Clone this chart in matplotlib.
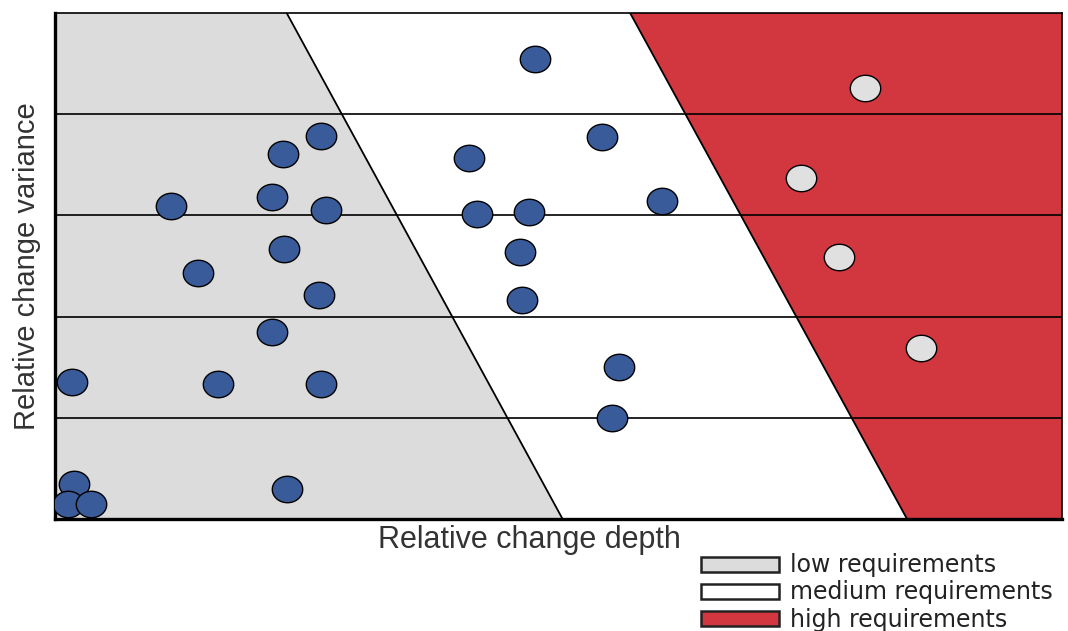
import numpy as np
import matplotlib.pyplot as plt
from matplotlib.patches import Polygon, Patch

plt.rcParams['font.family'] = ['Liberation Sans', 'DejaVu Sans']

# Zonen-Grenzen (oben, unten) auf der x-Achse
border_low = (2.30, 5.04)
border_high = (5.71, 8.46)
band_lines = [1, 2, 3, 4]

# Projekte (blau)
proj_x = [4.77, 2.64, 2.26, 4.11, 5.43, 1.15, 2.15, 2.69, 4.19, 4.71, 6.03, 2.27, 4.62,
          1.42, 2.62, 4.64, 2.15, 0.17, 1.62, 2.64, 5.60, 5.53, 0.19, 0.13, 0.36, 2.30]
proj_y = [4.54, 3.78, 3.61, 3.57, 3.77, 3.09, 3.18, 3.05, 3.01, 3.03, 3.14, 2.67, 2.64,
          2.43, 2.21, 2.16, 1.85, 1.35, 1.33, 1.33, 1.50, 1.00, 0.35, 0.15, 0.15, 0.30]

# Projekte im roten Bereich (hellgrau)
high_x = [8.04, 7.41, 7.78, 8.60]
high_y = [4.26, 3.37, 2.59, 1.69]

grey = '#dcdcdc'
red = '#d2373f'
blue = '#3a5b9a'

fig = plt.figure(figsize=(10.68, 6.31), dpi=100)
ax = fig.add_axes([0.0515, 0.1775, 0.943, 0.802])
ax.set_xlim(0, 10)
ax.set_ylim(0, 5)

ax.add_patch(Polygon([(0, 0), (0, 5), (border_low[0], 5), (border_low[1], 0)],
                     closed=True, facecolor=grey, edgecolor='none', zorder=0))
ax.add_patch(Polygon([(border_high[0], 5), (10, 5), (10, 0), (border_high[1], 0)],
                     closed=True, facecolor=red, edgecolor='none', zorder=0))

for yv in band_lines:
    ax.axhline(yv, color='black', lw=1.2, zorder=1)
ax.plot([border_low[0], border_low[1]], [5, 0], color='black', lw=1.3, zorder=1)
ax.plot([border_high[0], border_high[1]], [5, 0], color='black', lw=1.3, zorder=1)

# elliptischer Marker
t = np.linspace(0, 2 * np.pi, 60)
ell = np.column_stack([np.cos(t), 0.87 * np.sin(t)])

ax.scatter(proj_x, proj_y, marker=ell, s=480, facecolor=blue, edgecolor='black',
           linewidth=1.0, zorder=3)
ax.scatter(high_x, high_y, marker=ell, s=480, facecolor='#e0e0e0', edgecolor='black',
           linewidth=1.0, zorder=3)

ax.set_xticks([])
ax.set_yticks([])
for side in ['left', 'bottom']:
    ax.spines[side].set_linewidth(2.4)
for side in ['top', 'right']:
    ax.spines[side].set_linewidth(1.2)

ax.set_xlabel('Relative change depth', fontsize=22, color='#333333')
ax.xaxis.set_label_coords(0.471, -0.012, transform=ax.transAxes)
ax.xaxis.label.set_va('top')
ax.set_ylabel('Relative change variance', fontsize=21, color='#333333', labelpad=10)

handles = [Patch(facecolor=grey, edgecolor='#222222', linewidth=1.8, label='low requirements'),
           Patch(facecolor='white', edgecolor='#222222', linewidth=1.8, label='medium requirements'),
           Patch(facecolor=red, edgecolor='#222222', linewidth=1.8, label='high requirements')]
fig.legend(handles=handles, loc='upper left', bbox_to_anchor=(0.656, 0.123), frameon=False,
           prop={'family': 'DejaVu Sans', 'size': 17}, labelcolor='#222222',
           handlelength=3.3, handleheight=0.6, labelspacing=0.13,
           handletextpad=0.5, borderaxespad=0, borderpad=0)

fig.savefig('out.png', dpi=100)
